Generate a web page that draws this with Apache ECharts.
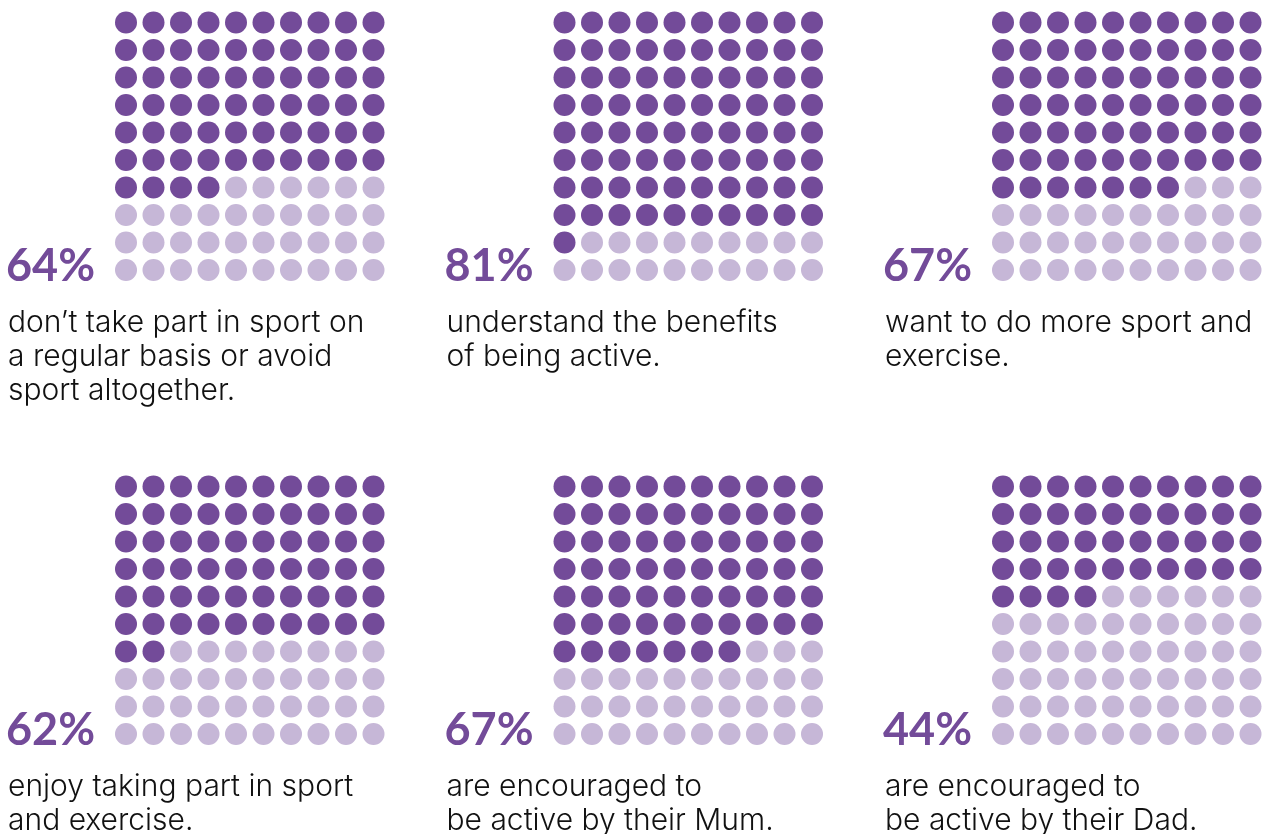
<!DOCTYPE html>
<html>
<head>
<meta charset="utf-8">
<script src="https://cdn.jsdelivr.net/npm/echarts@6/dist/echarts.min.js"></script>
<style>
html,body{margin:0;padding:0;background:#fff;}
#chart{width:1270px;height:834px;}
</style>
</head>
<body>
<div id="chart"></div>
<script>
// ---- data ----
const percentages = [64, 81, 67, 62, 67, 44];
const percentLabels = ['64%', '81%', '67%', '62%', '67%', '44%'];
const descriptions = [
  "don\u2019t take part in sport on\na regular basis or avoid\nsport altogether.",
  "understand the benefits\nof being active.",
  "want to do more sport and\nexercise.",
  "enjoy taking part in sport\nand exercise.",
  "are encouraged to\nbe active by their Mum.",
  "are encouraged to\nbe active by their Dad."
];
const gridCols = 10;
const gridRows = 10;

// ---- layout ----
const DARK = '#734b99';
const LIGHT = '#c6b7d7';
const colX = [126, 564.5, 1003];
const rowY = [22.5, 486.5];
const step = 27.5;
const span = step * 9;

const chart = echarts.init(document.getElementById('chart'));
const grids = [], xAxes = [], yAxes = [], series = [], graphics = [];

percentages.forEach((p, i) => {
  const cx = colX[i % 3], cy = rowY[Math.floor(i / 3)];
  grids.push({left: cx, top: cy, width: span, height: span, containLabel: false});
  xAxes.push({gridIndex: i, type: 'value', min: 0, max: gridCols - 1, show: false});
  yAxes.push({gridIndex: i, type: 'value', min: 0, max: gridRows - 1, inverse: true, show: false});
  const filled = [], empty = [];
  for (let k = 0; k < gridCols * gridRows; k++) {
    const pt = [k % gridCols, Math.floor(k / gridCols)];
    (k < p ? filled : empty).push(pt);
  }
  series.push({type: 'scatter', xAxisIndex: i, yAxisIndex: i, data: filled, symbolSize: 22,
    itemStyle: {color: DARK, opacity: 1}, silent: true, animation: false});
  series.push({type: 'scatter', xAxisIndex: i, yAxisIndex: i, data: empty, symbolSize: 22,
    itemStyle: {color: LIGHT, opacity: 1}, silent: true, animation: false});
  const px = cx - 120;
  graphics.push({type: 'text', left: px, top: cy + 221,
    style: {text: percentLabels[i], fill: DARK, font: 'bold 45px Lato, sans-serif'}});
  graphics.push({type: 'text', left: px + 2, top: cy + 283,
    style: {text: descriptions[i], fill: '#111', font: '300 30px Inter, sans-serif', lineHeight: 34}});
});

chart.setOption({
  animation: false,
  grid: grids, xAxis: xAxes, yAxis: yAxes, series: series, graphic: graphics
});
</script>
</body>
</html>
